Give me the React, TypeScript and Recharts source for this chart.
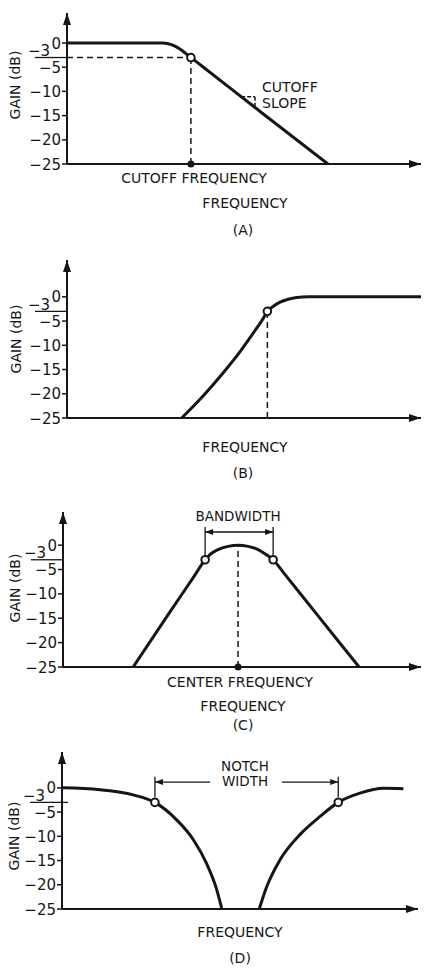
import React from "react";
import { LineChart, Line, XAxis, YAxis, ReferenceLine, ReferenceDot } from "recharts";

const INK = "#161616";
const FONT = "'DejaVu Sans', 'Liberation Sans', sans-serif";

// shared gain axis
const gainTicks = [0, -3, -5, -10, -15, -20, -25];
const halfPower = -3;
const floorGain = -25;

// (A) low-pass: frequency in % of axis length, gain in dB
const lowFreq = [0, 27, 29.7, 31.9, 33.6, 35, 38, 55, 73.7];
const lowGain = [0, 0, -0.4, -1.25, -2.2, -3, -4.7, -14.4, -25];
const lowCutoff = 35;
const slopeFreq = [49.2, 53.1];
const slopeGain = [-11.1, -13.4];

// (B) high-pass
const highFreq = [32.4, 38.5, 44.2, 48.9, 52.6, 55.3, 56.6, 58.4, 60.2, 62.5, 64.9, 68.2, 100];
const highGain = [-25, -20.4, -15.6, -11.3, -7.5, -4.6, -3, -1.9, -1.1, -0.5, -0.15, 0, 0];
const highCutoff = 56.6;

// (C) band-pass
const bandFreq = [19.6, 29.6, 36.7, 39.7, 41.1, 43.3, 46.1, 48.9, 51.7, 54.5, 56.7, 58.7, 61.7, 70.7, 82.7];
const bandGain = [-25, -14, -6.3, -3, -1.9, -0.9, -0.25, 0, -0.25, -0.9, -1.9, -3, -5.75, -14, -25];
const bandEdges = [39.7, 58.7];
const bandCenter = 48.9;

// (D) notch (band-stop)
const notchLeftFreq = [0, 10.7, 20, 26.1, 32.2, 36.9, 40.6, 43.5, 44.9];
const notchLeftGain = [0, -0.4, -1.45, -3, -6.6, -10.7, -15.6, -21.1, -25];
const notchRightFreq = [55.4, 57.5, 61.2, 66.9, 72.5, 77.6, 83.7, 90.3, 95.9];
const notchRightGain = [-25, -20.4, -14.9, -9.6, -5.9, -3, -1.1, -0.1, -0.2];
const notchEdges = [26.1, 77.6];
const notchGap = [41.6, 61.8];

const rows = (f: number[], g: number[]) => f.map((x, i) => ({ freq: x, gain: g[i] }));

const GainTick = (p: any) => {
  const { y, payload, axisX, underlineEnd } = p;
  const v = payload.value;
  if (v === halfPower) {
    return (
      <g>
        <text x={axisX - 17} y={y - 1.5} textAnchor="end" fontFamily={FONT} fontSize={15} fill={INK}>
          −3
        </text>
        <line x1={axisX - 32} x2={axisX + underlineEnd} y1={y} y2={y} stroke={INK} strokeWidth={1.3} />
      </g>
    );
  }
  return (
    <g>
      <line x1={axisX - 5} x2={axisX} y1={y} y2={y} stroke={INK} strokeWidth={1.5} />
      <text x={axisX - 6} y={y + 5.5} textAnchor="end" fontFamily={FONT} fontSize={15} fill={INK}>
        {v === 0 ? "0" : `−${Math.abs(v)}`}
      </text>
    </g>
  );
};

const upHead = (p: any) => (
  <polygon points={`${p.cx},${p.cy} ${p.cx - 4},${p.cy + 12} ${p.cx + 4},${p.cy + 12}`} fill={INK} />
);
const rightHead = (p: any) => (
  <polygon points={`${p.cx},${p.cy} ${p.cx - 12},${p.cy - 4} ${p.cx - 12},${p.cy + 4}`} fill={INK} />
);
const openDot = (p: any) => <circle cx={p.cx} cy={p.cy} r={3.8} fill="#fff" stroke={INK} strokeWidth={2} />;
const solidDot = (p: any) => <circle cx={p.cx} cy={p.cy} r={3.5} fill={INK} />;

const arrowLine = (heads: "start" | "end" | "both") => (p: any) => {
  const { x1, y1, x2, y2 } = p;
  const head = (tx: number, ty: number, dir: number) => (
    <polygon points={`${tx},${ty} ${tx - dir * 8},${ty - 3} ${tx - dir * 8},${ty + 3}`} fill={INK} />
  );
  return (
    <g>
      <line x1={x1} y1={y1} x2={x2} y2={y2} stroke={INK} strokeWidth={1.3} />
      {heads !== "end" && head(x1, y1, -1)}
      {heads !== "start" && head(x2, y2, 1)}
    </g>
  );
};

type PanelProps = {
  plotTop: number;
  plotBottom: number;
  left: number;
  right: number;
  yMax: number;
  underlineEnd?: number;
  children?: React.ReactNode;
};

const Panel = ({ plotTop, plotBottom, left, right, yMax, underlineEnd = 0, children }: PanelProps) => (
  <div style={{ position: "absolute", left: 0, top: plotTop - 6 }}>
    <LineChart
      width={424}
      height={plotBottom - plotTop + 20}
      margin={{ top: 6, right: 424 - right, bottom: 14, left: 0 }}
    >
      <XAxis type="number" dataKey="freq" domain={[0, 100]} allowDataOverflow hide />
      <YAxis
        type="number"
        domain={[floorGain, yMax]}
        allowDataOverflow
        ticks={gainTicks}
        interval={0}
        width={left}
        tickLine={false}
        tick={(p: any) => <GainTick {...p} axisX={left} underlineEnd={underlineEnd} />}
        axisLine={{ stroke: INK, strokeWidth: 2 }}
      />
      <ReferenceLine
        segment={[{ x: 0, y: floorGain }, { x: 100, y: floorGain }]}
        stroke={INK}
        strokeWidth={2}
        ifOverflow="visible"
      />
      <ReferenceDot x={0} y={yMax} ifOverflow="visible" shape={upHead} />
      <ReferenceDot x={100} y={floorGain} ifOverflow="visible" shape={rightHead} />
      {children}
    </LineChart>
  </div>
);

const Txt = ({ x, y, children, size = 14, start = false, rotate = false }: any) => (
  <div
    style={{
      position: "absolute",
      left: x,
      top: y,
      transform: `translate(${start ? "0" : "-50%"}, -50%)${rotate ? " rotate(-90deg)" : ""}`,
      fontFamily: FONT,
      fontSize: size,
      lineHeight: 1,
      whiteSpace: "nowrap",
      color: INK,
    }}
  >
    {children}
  </div>
);

const curve = (f: number[], g: number[]) => (
  <Line
    data={rows(f, g)}
    dataKey="gain"
    type="monotone"
    stroke={INK}
    strokeWidth={3}
    dot={false}
    isAnimationActive={false}
  />
);

const dash = { stroke: INK, strokeWidth: 1.5, strokeDasharray: "6 4", ifOverflow: "visible" as const };

export default function App() {
  return (
    <div style={{ position: "absolute", left: 0, top: 0, width: 424, height: 970, background: "#fff" }}>
      {/* (A) */}
      <Panel plotTop={13} plotBottom={164} left={67} right={421} yMax={6.2}>
        {curve(lowFreq, lowGain)}
        <ReferenceLine segment={[{ x: 0, y: halfPower }, { x: lowCutoff, y: halfPower }]} {...dash} />
        <ReferenceLine segment={[{ x: lowCutoff, y: floorGain }, { x: lowCutoff, y: halfPower }]} {...dash} />
        <ReferenceLine
          segment={[{ x: slopeFreq[0], y: slopeGain[0] }, { x: slopeFreq[1], y: slopeGain[0] }]}
          {...dash}
          strokeDasharray="4 2"
        />
        <ReferenceLine
          segment={[{ x: slopeFreq[1], y: slopeGain[0] }, { x: slopeFreq[1], y: slopeGain[1] }]}
          {...dash}
          strokeDasharray="4 2"
        />
        <ReferenceDot x={lowCutoff} y={halfPower} ifOverflow="visible" shape={openDot} />
        <ReferenceDot x={lowCutoff} y={floorGain} ifOverflow="visible" shape={solidDot} />
      </Panel>
      <Txt x={15} y={85} size={14} rotate>GAIN (dB)</Txt>
      <Txt x={262} y={87} start>CUTOFF</Txt>
      <Txt x={262} y={103} start>SLOPE</Txt>
      <Txt x={194} y={178}>CUTOFF FREQUENCY</Txt>
      <Txt x={245} y={203}>FREQUENCY</Txt>
      <Txt x={243} y={230}>(A)</Txt>

      {/* (B) */}
      <Panel plotTop={260} plotBottom={418} left={67} right={421} yMax={7.6}>
        {curve(highFreq, highGain)}
        <ReferenceLine segment={[{ x: highCutoff, y: floorGain }, { x: highCutoff, y: halfPower }]} {...dash} />
        <ReferenceDot x={highCutoff} y={halfPower} ifOverflow="visible" shape={openDot} />
      </Panel>
      <Txt x={16} y={339} size={14} rotate>GAIN (dB)</Txt>
      <Txt x={245} y={447}>FREQUENCY</Txt>
      <Txt x={243} y={473}>(B)</Txt>

      {/* (C) */}
      <Panel plotTop={512} plotBottom={667} left={63} right={421} yMax={6.8}>
        {curve(bandFreq, bandGain)}
        <ReferenceLine segment={[{ x: bandCenter, y: floorGain }, { x: bandCenter, y: 0 }]} {...dash} />
        <ReferenceLine
          segment={[{ x: bandEdges[0], y: -2 }, { x: bandEdges[0], y: 3.7 }]}
          stroke={INK}
          strokeWidth={1.3}
          ifOverflow="visible"
        />
        <ReferenceLine
          segment={[{ x: bandEdges[1], y: -2 }, { x: bandEdges[1], y: 3.7 }]}
          stroke={INK}
          strokeWidth={1.3}
          ifOverflow="visible"
        />
        <ReferenceLine
          segment={[{ x: bandEdges[0], y: 2.7 }, { x: bandEdges[1], y: 2.7 }]}
          ifOverflow="visible"
          shape={arrowLine("both")}
        />
        <ReferenceDot x={bandEdges[0]} y={halfPower} ifOverflow="visible" shape={openDot} />
        <ReferenceDot x={bandEdges[1]} y={halfPower} ifOverflow="visible" shape={openDot} />
        <ReferenceDot x={bandCenter} y={floorGain} ifOverflow="visible" shape={solidDot} />
      </Panel>
      <Txt x={15} y={588} size={14} rotate>GAIN (dB)</Txt>
      <Txt x={238} y={517} size={13.5}>BANDWIDTH</Txt>
      <Txt x={240} y={682}>CENTER FREQUENCY</Txt>
      <Txt x={243} y={706}>FREQUENCY</Txt>
      <Txt x={243} y={725}>(C)</Txt>

      {/* (D) */}
      <Panel plotTop={752} plotBottom={909} left={62} right={418} yMax={7.4} underlineEnd={6}>
        {curve(notchLeftFreq, notchLeftGain)}
        {curve(notchRightFreq, notchRightGain)}
        <ReferenceLine
          segment={[{ x: notchEdges[0], y: -1.9 }, { x: notchEdges[0], y: 2.3 }]}
          stroke={INK}
          strokeWidth={1.3}
          ifOverflow="visible"
        />
        <ReferenceLine
          segment={[{ x: notchEdges[1], y: -1.9 }, { x: notchEdges[1], y: 2.3 }]}
          stroke={INK}
          strokeWidth={1.3}
          ifOverflow="visible"
        />
        <ReferenceLine
          segment={[{ x: notchEdges[0], y: 1.2 }, { x: notchGap[0], y: 1.2 }]}
          ifOverflow="visible"
          shape={arrowLine("start")}
        />
        <ReferenceLine
          segment={[{ x: notchGap[1], y: 1.2 }, { x: notchEdges[1], y: 1.2 }]}
          ifOverflow="visible"
          shape={arrowLine("end")}
        />
        <ReferenceDot x={notchEdges[0]} y={halfPower} ifOverflow="visible" shape={openDot} />
        <ReferenceDot x={notchEdges[1]} y={halfPower} ifOverflow="visible" shape={openDot} />
      </Panel>
      <Txt x={14} y={836} size={14} rotate>GAIN (dB)</Txt>
      <Txt x={245} y={767} size={13.5}>NOTCH</Txt>
      <Txt x={245} y={782} size={13.5}>WIDTH</Txt>
      <Txt x={240} y={932}>FREQUENCY</Txt>
      <Txt x={240} y={958}>(D)</Txt>
    </div>
  );
}
